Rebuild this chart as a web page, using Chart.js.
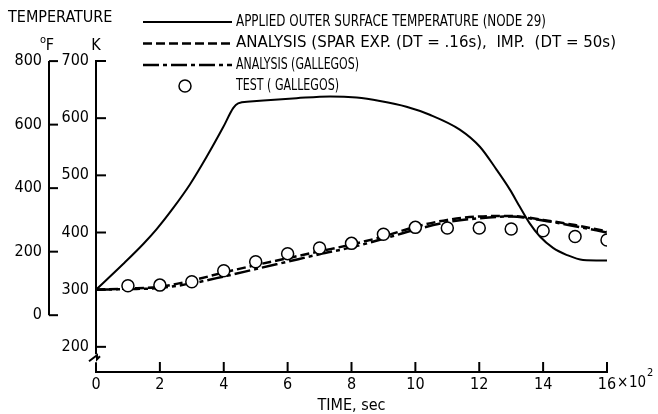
<!DOCTYPE html>
<html>
<head>
<meta charset="utf-8">
<script src="https://cdn.jsdelivr.net/npm/chart.js@4/dist/chart.umd.min.js"></script>
<style>
html,body{margin:0;padding:0;background:#fff}
#box{width:658px;height:414px}
</style>
</head>
<body>
<div id="box"><canvas id="grafico" width="658" height="414"></canvas></div>
<script>

// tempo em centenas de segundos (x 10^2 s), temperatura em K
let tempoAplicada = [0, 0.85, 1.48, 1.9, 2.42, 2.94, 3.46, 3.98, 4.3, 4.45, 4.82, 5.24, 6.28, 7.33, 8.16, 8.89, 9.72, 10.45, 11.39, 12.02, 12.54, 12.96, 13.27, 13.58, 13.9, 14.31, 14.73, 15.25, 16]
let tempAplicada = [300, 345, 380, 406, 443, 484, 532, 584, 618, 626, 629, 631, 635, 638, 636, 630, 620, 606, 580, 550, 510, 475, 445, 416, 393, 373, 361, 352, 351]

let tempoAnalise = [0, 1, 2, 3, 4, 5, 6, 7, 8, 9, 10, 11, 12, 13, 14, 15, 16]
let tempSpar = [300, 302, 305, 316, 330, 343, 355, 367, 379, 393, 410, 422, 428, 429, 422, 413, 402]
let tempGallegos = [300, 301, 303, 311, 323, 336, 349, 362, 374, 389, 405, 418, 425, 428, 421, 411, 400]

let tempoTeste = [1, 2, 3, 4, 5, 6, 7, 8, 9, 10, 11, 12, 13, 14, 15, 16]
let tempTeste = [307, 308, 314, 333, 349, 363, 373, 381, 397, 409, 408, 408, 406, 403, 393, 387]

let ticksX = [0, 2, 4, 6, 8, 10, 12, 14, 16]
let ticksK = [200, 300, 400, 500, 600, 700]
let ticksF = [0, 200, 400, 600, 800]

let nomes = [
"APPLIED OUTER SURFACE TEMPERATURE (NODE 29)",
"ANALYSIS (SPAR EXP. (DT = .16s),  IMP.  (DT = 50s)",
"ANALYSIS (GALLEGOS)",
"TEST ( GALLEGOS)"
]

let fonte = "'DejaVu Sans Condensed', 'Liberation Sans Narrow', sans-serif"

let paraF = k => (k - 273.15) * 1.8 + 32
let pares = (xs, ys) => xs.map((x, i) => ({x: x, y: ys[i]}))

let kMin = 156
let kMax = 700

let desenho = {
id: "desenho",
afterDraw(chart){
let ctx = chart.ctx
let sx = chart.scales.x
let sk = chart.scales.y
let sf = chart.scales.yF
ctx.save()
ctx.strokeStyle = "#000"
ctx.fillStyle = "#000"
ctx.lineWidth = 2
ctx.setLineDash([])

// eixo F so de 0 a 800
let fx = sf.right
ctx.beginPath()
ctx.moveTo(fx, sf.getPixelForValue(800))
ctx.lineTo(fx, sf.getPixelForValue(0))
ctx.stroke()
ticksF.forEach(v => {
let y = sf.getPixelForValue(v)
ctx.beginPath()
ctx.moveTo(fx, y)
ctx.lineTo(fx + 9, y)
ctx.stroke()
})

// marcas do eixo K
let kx = sk.right - 1
ticksK.forEach(v => {
let y = sk.getPixelForValue(v)
ctx.beginPath()
ctx.moveTo(kx, y)
ctx.lineTo(kx + 11, y)
ctx.stroke()
})

// quebra do eixo K
let yq = sk.getPixelForValue(180)
ctx.fillStyle = "#fff"
ctx.fillRect(kx - 3, yq - 4, 6, 8)
ctx.fillStyle = "#000"
ctx.beginPath()
ctx.moveTo(kx - 6, yq + 3)
ctx.lineTo(kx + 2, yq - 3)
ctx.lineTo(kx + 2, yq + 1)
ctx.lineTo(kx + 5, yq - 2)
ctx.stroke()

// marcas do eixo x
let yb = sx.top + 1
ticksX.forEach(v => {
if (v == 0) return
let x = sx.getPixelForValue(v)
ctx.beginPath()
ctx.moveTo(x, yb)
ctx.lineTo(x, yb - 11)
ctx.stroke()
})

// textos
ctx.textBaseline = "middle"
ctx.textAlign = "left"
ctx.font = "16px " + fonte
ctx.fillText("TEMPERATURE", 8, 18)
ctx.textAlign = "center"
ctx.fillText("F", fx + 1, 46)
ctx.fillText("K", kx + 1, 46)
ctx.font = "11px " + fonte
ctx.fillText("o", fx - 6, 40)

let x16 = sx.getPixelForValue(16)
ctx.textAlign = "left"
ctx.font = "15px " + fonte
ctx.fillText("\u00d7", x16 + 10, 383)
ctx.fillText("10", x16 + 22, 383)
ctx.font = "11px " + fonte
ctx.fillText("2", x16 + 40, 373)

// legenda
let linhas = [22, 43.5, 65, 86]
let larguras = [310, 380, 123, 103]
ctx.font = "15px " + fonte
chart.data.datasets.forEach((d, i) => {
let y = linhas[i]
ctx.lineWidth = d.borderWidth
if (d.showLine === false) {
ctx.setLineDash([])
ctx.lineWidth = 1.5
ctx.fillStyle = "#fff"
ctx.beginPath()
ctx.arc(185, y, 6, 0, Math.PI * 2)
ctx.fill()
ctx.stroke()
ctx.fillStyle = "#000"
} else {
ctx.setLineDash(d.borderDash || [])
ctx.beginPath()
ctx.moveTo(143, y)
ctx.lineTo(232, y)
ctx.stroke()
}
ctx.setLineDash([])
let w = ctx.measureText(d.label).width
ctx.save()
ctx.translate(236, y)
ctx.scale(larguras[i] / w, 1)
ctx.fillText(d.label, 0, 0)
ctx.restore()
})
ctx.restore()
}
}

let fontTick = {family: fonte, size: 16}

new Chart(document.getElementById("grafico"), {
type: "line",
data: {
datasets: [{
label: nomes[0],
data: pares(tempoAplicada, tempAplicada),
borderColor: "#000",
borderWidth: 2,
pointRadius: 0,
cubicInterpolationMode: "monotone"
},{
label: nomes[1],
data: pares(tempoAnalise, tempSpar),
borderColor: "#000",
borderWidth: 2.5,
borderDash: [9, 4],
pointRadius: 0,
cubicInterpolationMode: "monotone"
},{
label: nomes[2],
data: pares(tempoAnalise, tempGallegos),
borderColor: "#000",
borderWidth: 2.5,
borderDash: [16, 4, 4, 4],
pointRadius: 0,
cubicInterpolationMode: "monotone"
},{
label: nomes[3],
data: pares(tempoTeste, tempTeste),
showLine: false,
borderColor: "#000",
pointRadius: 6,
pointBorderWidth: 1.5,
pointBackgroundColor: "#fff",
pointBorderColor: "#000",
order: -1
}]
},
options: {
responsive: false,
animation: false,
devicePixelRatio: 1,
layout: {padding: {top: 61, right: 51, left: 0, bottom: 0}},
plugins: {legend: {display: false}, tooltip: {enabled: false}},
scales: {
x: {
type: "linear",
min: 0,
max: 16,
grid: {display: false, drawTicks: false},
border: {display: true, width: 2, color: "#000"},
ticks: {font: fontTick, color: "#000", padding: 3},
afterBuildTicks: s => { s.ticks = ticksX.map(v => ({value: v})) },
afterFit: s => { s.height = 42; s.paddingLeft = 0; s.paddingRight = 0 },
title: {display: true, text: "TIME, sec", font: {family: fonte, size: 16, lineHeight: 1}, color: "#000", padding: 0}
},
y: {
position: "left",
weight: 0,
min: kMin,
max: kMax,
grid: {display: false, drawTicks: false},
border: {display: true, width: 2, color: "#000"},
ticks: {font: fontTick, color: "#000", padding: 7},
afterBuildTicks: s => { s.ticks = ticksK.map(v => ({value: v})) },
afterFit: s => { s.width = 47; s.paddingTop = 0; s.paddingBottom = 0 }
},
yF: {
position: "left",
weight: 1,
min: paraF(kMin),
max: paraF(kMax),
grid: {display: false, drawTicks: false},
border: {display: false},
ticks: {font: fontTick, color: "#000", padding: 7},
afterBuildTicks: s => { s.ticks = ticksF.map(v => ({value: v})) },
afterFit: s => { s.width = 49; s.paddingTop = 0; s.paddingBottom = 0 }
}
}
},
plugins: [desenho]
})

</script>
</body>
</html>
